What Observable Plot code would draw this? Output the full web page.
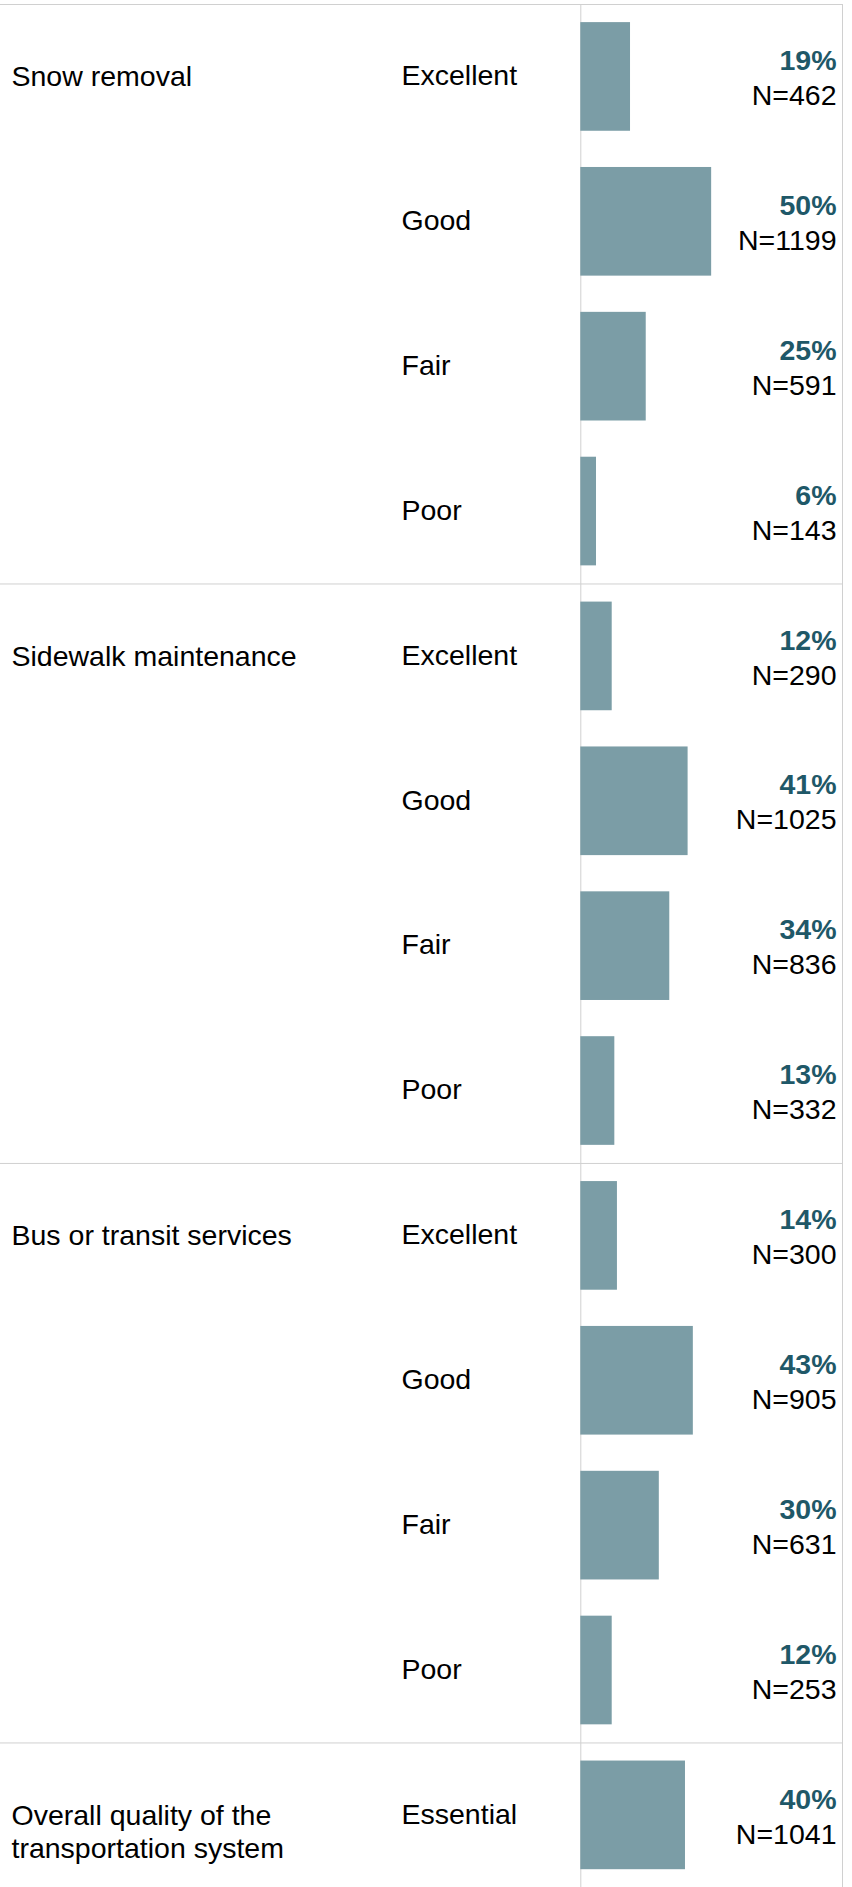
<!DOCTYPE html>
<html>
<head>
<meta charset="utf-8">
<script src="https://cdn.jsdelivr.net/npm/d3@7"></script>
<script src="https://cdn.jsdelivr.net/npm/@observablehq/plot@0.6"></script>
<style>
  html, body { margin: 0; padding: 0; background: #ffffff; }
  #chart svg { display: block; }
</style>
</head>
<body>
<div id="chart"></div>
<script>
// ---- Data ----
const groups = [
  "Snow removal",
  "Sidewalk maintenance",
  "Bus or transit services",
  "Overall quality of the transportation system"
];
const ratings = [
  ["Excellent", "Good", "Fair", "Poor"],
  ["Excellent", "Good", "Fair", "Poor"],
  ["Excellent", "Good", "Fair", "Poor"],
  ["Essential"]
];
const percents = [
  [19, 50, 25, 6],
  [12, 41, 34, 13],
  [14, 43, 30, 12],
  [40]
];
const counts = [
  [462, 1199, 591, 143],
  [290, 1025, 836, 332],
  [300, 905, 631, 253],
  [1041]
];

// ---- Build table ----
const rows = [];
const groupStarts = [];
groups.forEach((g, gi) => {
  groupStarts.push({group: g, index: rows.length});
  ratings[gi].forEach((r, ri) => {
    rows.push({group: g, rating: r, pct: percents[gi][ri], n: counts[gi][ri], index: rows.length});
  });
});
const nRows = rows.length;

const FONT = 28.5;
const GRID = "#d0d0d0";

const chart = Plot.plot({
  width: 852,
  height: 1887,
  marginTop: 0,
  marginBottom: 0,
  marginLeft: 0,
  marginRight: 10,
  style: {fontFamily: "Arial, 'Liberation Sans', sans-serif", fontSize: FONT + "px", background: "#ffffff"},
  x: {domain: [0, 100], range: [580.3, 842], axis: null},
  y: {domain: [0, nRows], range: [4, 4 + 144.87 * nRows], axis: null},
  marks: [
    // group separators (top border included)
    Plot.ruleY(groupStarts, {y: "index", stroke: GRID, strokeWidth: 1}),
    // zero axis and right border
    Plot.ruleX([0, 100], {y1: 0, y2: nRows, stroke: GRID, strokeWidth: 1}),
    // bars
    Plot.rectX(rows, {
      x1: 0, x2: "pct",
      y1: d => d.index + 0.125, y2: d => d.index + 0.875,
      fill: "#7b9da6"
    }),
    // group labels
    Plot.text(groupStarts, {
      y: d => d.index + 0.5, text: "group",
      frameAnchor: "left", dx: 11, textAnchor: "start",
      lineAnchor: "top", dy: -14.5, lineWidth: 12, lineHeight: 1.17,
      fontSize: FONT, fill: "#000000"
    }),
    // rating labels
    Plot.text(rows, {
      y: d => d.index + 0.5, text: "rating",
      frameAnchor: "left", dx: 401, textAnchor: "start",
      dy: -0.8, fontSize: FONT, fill: "#000000"
    }),
    // percent labels
    Plot.text(rows, {
      y: d => d.index + 0.5, text: d => d.pct + "%",
      frameAnchor: "right", dx: -6, textAnchor: "end",
      dy: -16, fontSize: FONT, fontWeight: "bold", fill: "#1f5868"
    }),
    // N labels
    Plot.text(rows, {
      y: d => d.index + 0.5, text: d => "N=" + d.n,
      frameAnchor: "right", dx: -6, textAnchor: "end",
      dy: 19, fontSize: FONT, fill: "#000000"
    })
  ]
});
document.getElementById("chart").appendChild(chart);
</script>
</body>
</html>
